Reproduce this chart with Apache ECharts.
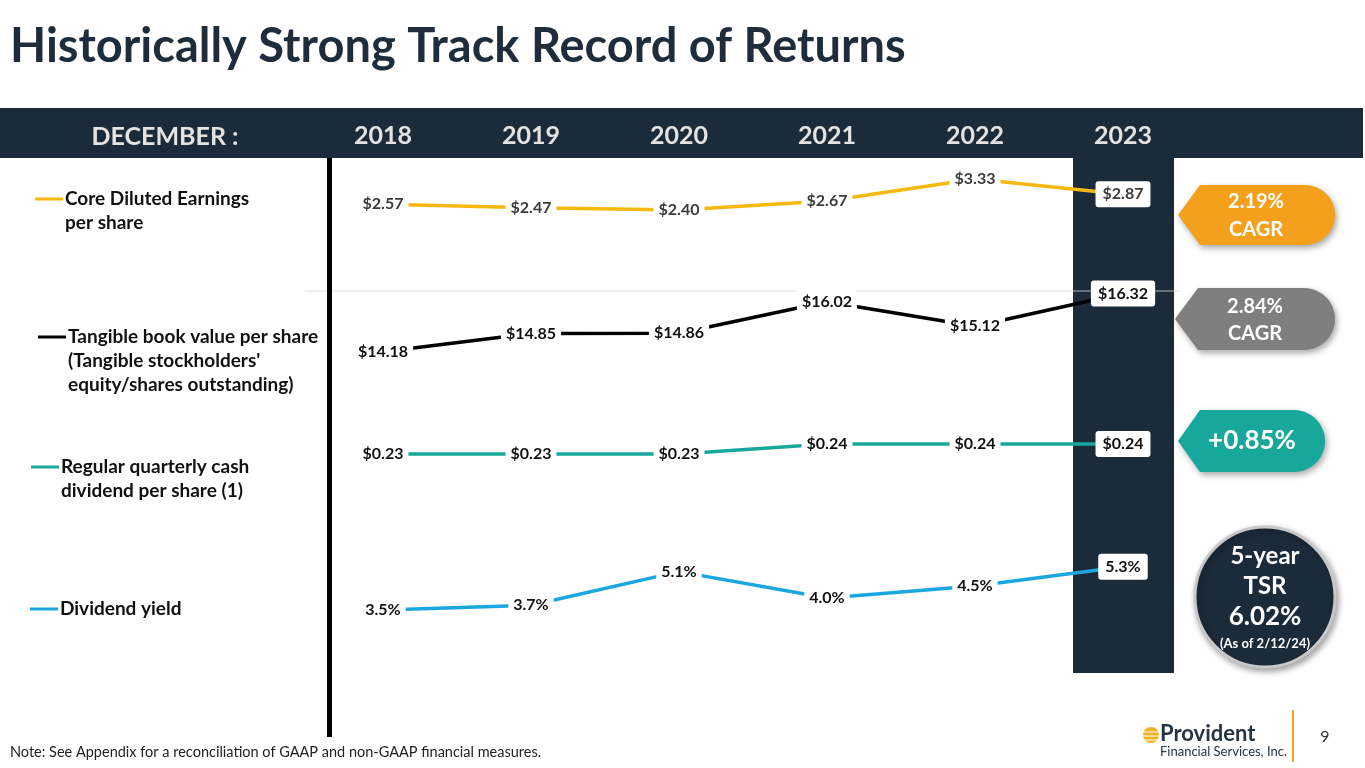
<!DOCTYPE html>
<html>
<head>
<meta charset="utf-8">
<script src="https://cdn.jsdelivr.net/npm/echarts@6/dist/echarts.min.js"></script>
<style>
html,body{margin:0;padding:0;background:#fff;}
#main{width:1365px;height:768px;}
</style>
</head>
<body>
<div id="main"></div>
<script>
// ---- data ----
const years = ['2018', '2019', '2020', '2021', '2022', '2023'];
const epsValues = [2.57, 2.47, 2.40, 2.67, 3.33, 2.87];
const tbvValues = [14.18, 14.85, 14.86, 16.02, 15.12, 16.32];
const dividendValues = [0.23, 0.23, 0.23, 0.24, 0.24, 0.24];
const yieldValues = [3.5, 3.7, 5.1, 4.0, 4.5, 5.3];
const seriesNames = ['Core Diluted Earnings per share', 'Tangible book value per share', 'Regular quarterly cash dividend per share (1)', 'Dividend yield'];

const FONT = 'Lato, "Open Sans", sans-serif';
const NAVY = '#1c2b3a';

const chart = echarts.init(document.getElementById('main'));

const gridLeft = 309, gridWidth = 888;
const grids = [
  {left: gridLeft, width: gridWidth, top: 160, height: 130},
  {left: gridLeft, width: gridWidth, top: 275, height: 109},
  {left: gridLeft, width: gridWidth, top: 434, height: 30},
  {left: gridLeft, width: gridWidth, top: 550, height: 72}
];
const yRanges = [[0, 3.9], [13, 17], [0.22, 0.25], [3, 6]];

const xAxes = grids.map((g, i) => ({
  type: 'category', gridIndex: i, data: years, boundaryGap: true,
  position: 'top', show: i === 0,
  axisLine: {show: false}, axisTick: {show: false}, splitLine: {show: false},
  axisLabel: {show: i === 0, margin: 12, color: '#e3e3e3', fontFamily: FONT, fontWeight: 'bold', fontSize: 25}
}));
const yAxes = yRanges.map((r, i) => ({
  type: 'value', gridIndex: i, min: r[0], max: r[1], show: false, splitLine: {show: false}
}));

function labelCfg(fmt, color) {
  return {
    show: true, position: 'inside', formatter: p => fmt(p.value),
    color: color, fontFamily: FONT, fontWeight: 'bold', fontSize: 16,
    backgroundColor: '#fff', padding: [4, 5], borderRadius: 3
  };
}
function mkSeries(name, idx, data, color, fmt, labelColor) {
  const last = data.length - 1;
  return {
    name: name, type: 'line', xAxisIndex: idx, yAxisIndex: idx,
    data: data.map((v, i) => i === last ? {value: v, label: {padding: [5, 7]}} : v),
    symbol: 'circle', symbolSize: 1, showSymbol: true,
    itemStyle: {color: color},
    lineStyle: {color: color, width: 3.5},
    label: labelCfg(fmt, labelColor), z: 5, silent: true
  };
}
const money = v => '$' + Number(v).toFixed(2);
const pct = v => Number(v).toFixed(1) + '%';

const series = [
  mkSeries(seriesNames[0], 0, epsValues, '#f5b80f', money, '#3b3b3b'),
  mkSeries(seriesNames[1], 1, tbvValues, '#000000', money, '#111'),
  mkSeries(seriesNames[2], 2, dividendValues, '#17a89b', money, '#111'),
  mkSeries(seriesNames[3], 3, yieldValues, '#1aa7e0', pct, '#111')
];

function legendItem(x, y, color, lines) {
  const els = [{
    type: 'line', shape: {x1: x, y1: y, x2: x + 28, y2: y},
    style: {stroke: color, lineWidth: 3}
  }];
  lines.forEach((t, k) => els.push({
    type: 'text', x: x + 30, y: y + k * 24,
    style: {text: t, fill: '#111', font: 'bold 19px ' + FONT, textVerticalAlign: 'middle'}
  }));
  return els;
}

// arrow-left badge with rounded right end, as polygon
function badgePoints(xl, xa, xr, top, bottom) {
  const cy = (top + bottom) / 2, r = (bottom - top) / 2, cx = xr - r;
  const pts = [[xl, cy], [xa, top]];
  for (let a = -90; a <= 90; a += 6) {
    const t = a * Math.PI / 180;
    pts.push([cx + r * Math.cos(t), cy + r * Math.sin(t)]);
  }
  pts.push([xa, bottom]);
  return pts;
}
function badge(pts, color, texts) {
  const els = [{
    type: 'polygon', shape: {points: pts},
    style: {fill: color, shadowBlur: 6, shadowColor: 'rgba(0,0,0,0.35)', shadowOffsetX: 2, shadowOffsetY: 3}
  }];
  texts.forEach(t => els.push({
    type: 'text', x: t.x, y: t.y,
    style: {text: t.text, fill: '#fff', font: 'bold ' + t.size + 'px ' + FONT, textAlign: 'center', textVerticalAlign: 'middle'}
  }));
  return els;
}

const graphic = [
  // title
  {type: 'text', x: 10, y: 47, style: {text: 'Historically Strong Track Record of Returns', fill: '#1e2c3b', font: 'bold 47px ' + FONT, textVerticalAlign: 'middle'}},
  // header bar
  {type: 'rect', shape: {x: 0, y: 108, width: 1363, height: 50}, style: {fill: NAVY}, z: -2},
  {type: 'text', x: 165, y: 137, style: {text: 'DECEMBER :', fill: '#e3e3e3', font: 'bold 25px ' + FONT, textAlign: 'center', textVerticalAlign: 'middle'}},
  // 2023 highlight column
  {type: 'rect', shape: {x: 1073, y: 158, width: 101, height: 515}, style: {fill: NAVY}, z: -1},
  // thin separator line
  {type: 'line', shape: {x1: 305, y1: 291, x2: 1180, y2: 291}, style: {stroke: 'rgba(210,215,220,0.8)', lineWidth: 1}, z: 0},
  // vertical black bar
  {type: 'rect', shape: {x: 327, y: 158, width: 5, height: 579}, style: {fill: '#000'}},
  // footer
  {type: 'text', x: 10, y: 752, style: {text: 'Note: See Appendix for a reconciliation of GAAP and non-GAAP financial measures.', fill: '#222', font: '14.5px ' + FONT, textVerticalAlign: 'middle'}},
  {type: 'line', shape: {x1: 1293, y1: 710, x2: 1293, y2: 762}, style: {stroke: '#f5a01a', lineWidth: 2}},
  {type: 'text', x: 1325, y: 737, style: {text: '9', fill: '#333', font: '16px ' + FONT, textAlign: 'center', textVerticalAlign: 'middle'}},
  {type: 'circle', shape: {cx: 1151, cy: 735, r: 8}, style: {fill: '#f1b224'}},
  {type: 'line', shape: {x1: 1142, y1: 732, x2: 1160, y2: 732}, style: {stroke: '#fff', lineWidth: 1}},
  {type: 'line', shape: {x1: 1142, y1: 736, x2: 1160, y2: 736}, style: {stroke: '#fff', lineWidth: 1}},
  {type: 'line', shape: {x1: 1142, y1: 740, x2: 1160, y2: 740}, style: {stroke: '#fff', lineWidth: 1}},
  {type: 'text', x: 1160, y: 734, style: {text: 'Provident', fill: '#253447', font: 'bold 22px ' + FONT, textVerticalAlign: 'middle'}},
  {type: 'text', x: 1160, y: 752, style: {text: 'Financial Services, Inc.', fill: '#253447', font: '13px ' + FONT, textVerticalAlign: 'middle'}},
  // TSR circle
  {type: 'circle', shape: {cx: 1265, cy: 597, r: 70}, style: {fill: NAVY, stroke: '#c8c8c8', lineWidth: 3, shadowBlur: 6, shadowColor: 'rgba(0,0,0,0.35)', shadowOffsetX: 2, shadowOffsetY: 3}},
  {type: 'text', x: 1265, y: 556, style: {text: '5-year', fill: '#fff', font: 'bold 24px ' + FONT, textAlign: 'center', textVerticalAlign: 'middle'}},
  {type: 'text', x: 1265, y: 586, style: {text: 'TSR', fill: '#fff', font: 'bold 24px ' + FONT, textAlign: 'center', textVerticalAlign: 'middle'}},
  {type: 'text', x: 1265, y: 617, style: {text: '6.02%', fill: '#fff', font: 'bold 26px ' + FONT, textAlign: 'center', textVerticalAlign: 'middle'}},
  {type: 'text', x: 1265, y: 644, style: {text: '(As of 2/12/24)', fill: '#fff', font: 'bold 13px ' + FONT, textAlign: 'center', textVerticalAlign: 'middle'}}
]
.concat(legendItem(35, 199, '#f5b80f', ['Core Diluted Earnings', 'per share']))
.concat(legendItem(38, 337, '#000000', ['Tangible book value per share', "(Tangible stockholders'", 'equity/shares outstanding)']))
.concat(legendItem(31, 467, '#17a89b', ['Regular quarterly cash', 'dividend per share (1)']))
.concat(legendItem(30, 609, '#1aa7e0', ['Dividend yield']))
.concat(badge(badgePoints(1178, 1200, 1335, 185, 245), '#f5a01d',
  [{text: '2.19%', x: 1256, y: 202, size: 20}, {text: 'CAGR', x: 1256, y: 230, size: 20}]))
.concat(badge(badgePoints(1175, 1198, 1335, 288, 350), '#7f7f7f',
  [{text: '2.84%', x: 1255, y: 307, size: 20}, {text: 'CAGR', x: 1255, y: 334, size: 20}]))
.concat(badge(badgePoints(1178, 1200, 1325, 410, 472), '#17a89b',
  [{text: '+0.85%', x: 1252, y: 441, size: 26}]));

chart.setOption({
  animation: false,
  backgroundColor: '#fff',
  grid: grids,
  xAxis: xAxes,
  yAxis: yAxes,
  series: series,
  graphic: graphic
});
</script>
</body>
</html>
